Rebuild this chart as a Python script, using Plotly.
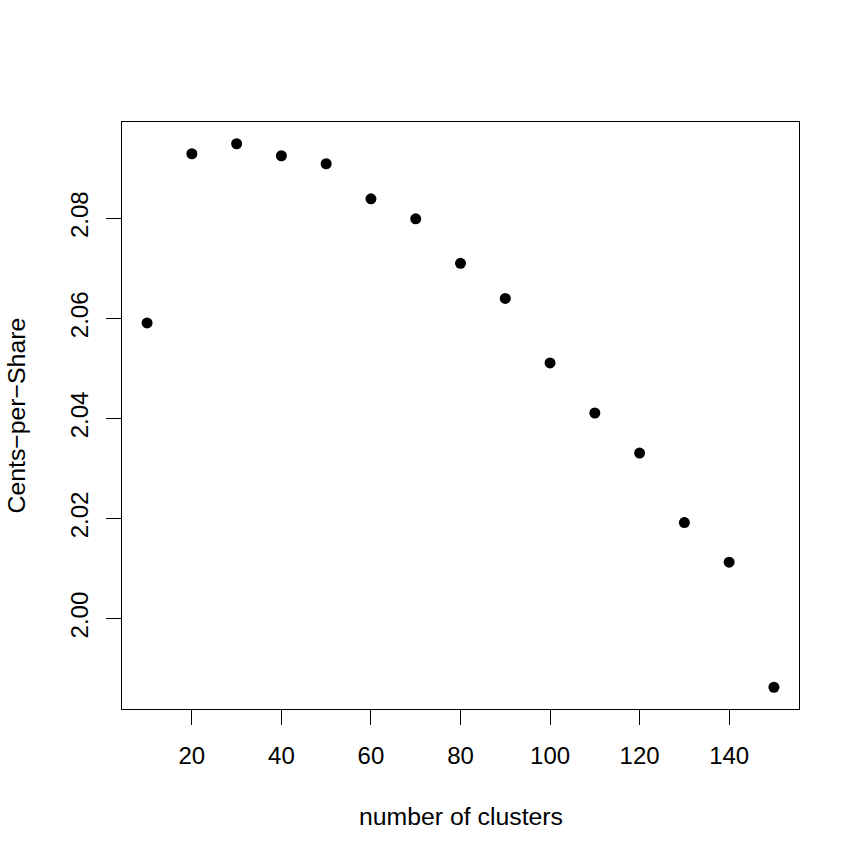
import plotly.graph_objects as go

clusters = [10, 20, 30, 40, 50, 60, 70, 80, 90, 100, 110, 120, 130, 140, 150]
cents_per_share = [2.0591, 2.0929, 2.0949, 2.0925, 2.0909, 2.0839, 2.0799, 2.0710,
                   2.0640, 2.0511, 2.0411, 2.0331, 2.0192, 2.0113, 1.9863]
x_ticks = [20, 40, 60, 80, 100, 120, 140]
y_ticks = [2.00, 2.02, 2.04, 2.06, 2.08]
y_tick_labels = ["2.00", "2.02", "2.04", "2.06", "2.08"]

FONT = "Liberation Sans, Arial, Helvetica, sans-serif"
FS = 24

def padded(lo, hi):
    d = (hi - lo) * 0.04
    return [lo - d, hi + d]

fig = go.Figure()
fig.add_trace(go.Scatter(
    x=clusters, y=cents_per_share, mode="markers",
    marker=dict(color="black", size=11, line=dict(width=0)),
    showlegend=False,
))

axis_common = dict(
    showgrid=False, zeroline=False, showline=True, linecolor="black",
    linewidth=1.3, mirror=True, ticks="outside", ticklen=15, tickwidth=1.3,
    tickcolor="black", tickfont=dict(family=FONT, size=FS, color="black"),
)

fig.update_xaxes(
    range=padded(min(clusters), max(clusters)),
    tickmode="array", tickvals=x_ticks, ticktext=[str(v) for v in x_ticks],
    ticklabelstandoff=10,
    **axis_common,
)
fig.update_yaxes(
    range=padded(min(cents_per_share), max(cents_per_share)),
    tickmode="array", tickvals=y_ticks, ticktext=y_tick_labels,
    tickangle=-90, ticklabelstandoff=8,
    **axis_common,
)

fig.add_annotation(
    text="number of clusters", xref="paper", yref="paper", x=0.5, y=0,
    yshift=-107, xanchor="center", yanchor="middle", showarrow=False,
    font=dict(family=FONT, size=24.8, color="black"),
)
fig.add_annotation(
    text="Cents\u2212per\u2212Share", xref="paper", yref="paper", x=0, y=0.5,
    xshift=-106, xanchor="center", yanchor="middle", textangle=-90, showarrow=False,
    font=dict(family=FONT, size=24.8, color="black"),
)

fig.update_layout(
    width=863, height=863,
    margin=dict(l=122, r=64, t=122, b=154, autoexpand=False),
    paper_bgcolor="white", plot_bgcolor="white",
)

fig.write_html("out.html")
